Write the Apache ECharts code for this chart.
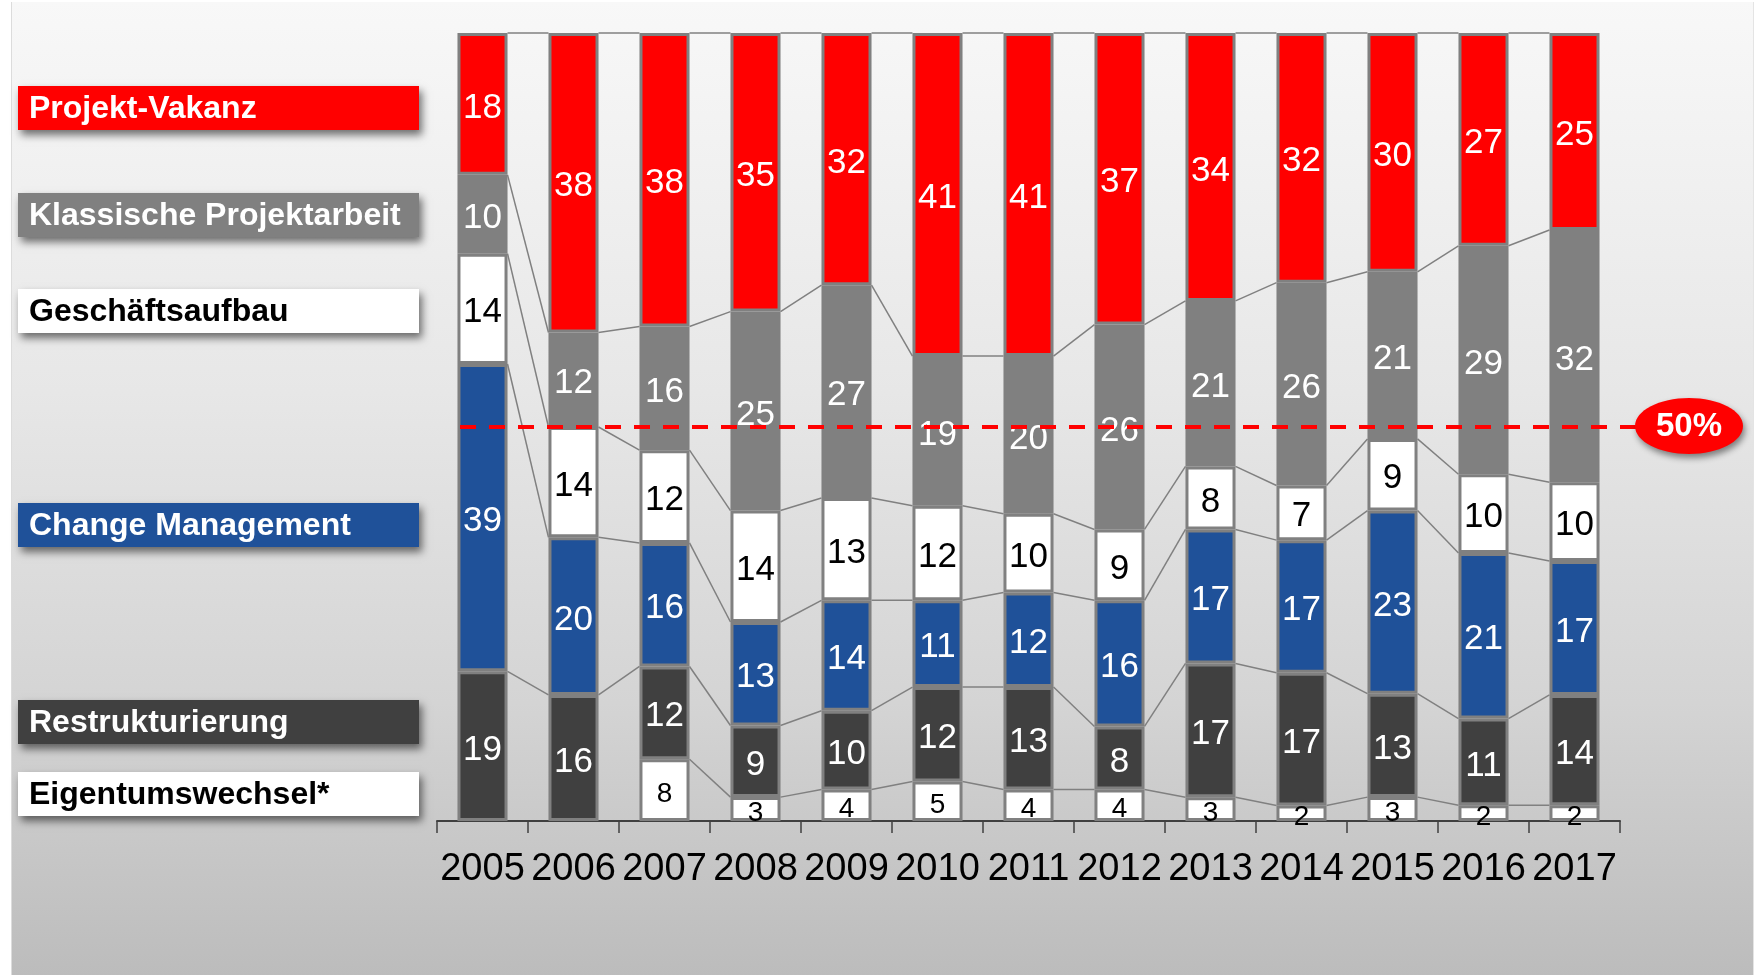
<!DOCTYPE html>
<html>
<head>
<meta charset="utf-8">
<script src="https://cdn.jsdelivr.net/npm/echarts@6/dist/echarts.min.js"></script>
<style>
  html, body { margin: 0; padding: 0; width: 1764px; height: 975px; background: #ffffff; overflow: hidden; }
  #panel { position: absolute; left: 11px; top: 2px; width: 1743px; height: 973px;
    background: linear-gradient(to bottom, #f8f8f8 0%, #e7e7e7 40%, #d4d4d4 72%, #c8c8c8 86%, #bcbcbc 100%);
    border-left: 1px solid #dcdcdc; border-right: 1px solid #e4e4e4; box-sizing: border-box; }
  #chart { position: absolute; left: 0; top: 0; width: 1764px; height: 975px; }
</style>
</head>
<body>
<div id="panel"></div>
<div id="chart"></div>
<script>
const years = ['2005','2006','2007','2008','2009','2010','2011','2012','2013','2014','2015','2016','2017'];
const eigentumswechsel = [0, 0, 8, 3, 4, 5, 4, 4, 3, 2, 3, 2, 2];
const restrukturierung = [19, 16, 12, 9, 10, 12, 13, 8, 17, 17, 13, 11, 14];
const changeManagement = [39, 20, 16, 13, 14, 11, 12, 16, 17, 17, 23, 21, 17];
const geschaeftsaufbau = [14, 14, 12, 14, 13, 12, 10, 9, 8, 7, 9, 10, 10];
const klassischeProjektarbeit = [10, 12, 16, 25, 27, 19, 20, 26, 21, 26, 21, 29, 32];
const projektVakanz = [18, 38, 38, 35, 32, 41, 41, 37, 34, 32, 30, 27, 25];
const seriesNames = ['Eigentumswechsel*', 'Restrukturierung', 'Change Management', 'Geschäftsaufbau', 'Klassische Projektarbeit', 'Projekt-Vakanz'];
const referenceLine = 50;

const raw = [eigentumswechsel, restrukturierung, changeManagement, geschaeftsaufbau, klassischeProjektarbeit, projektVakanz];
const colors = ['#ffffff', '#404040', '#1f5199', '#ffffff', '#808080', '#ff0000'];
const labelColors = ['#000000', '#ffffff', '#ffffff', '#000000', '#ffffff', '#ffffff'];
const labelSizes = [28, 35, 35, 35, 35, 35];
const FONT = "'Liberation Sans', Arial, sans-serif";
const GAP = 0.45;

const totals = years.map((_, i) => raw.reduce((a, s) => a + s[i], 0));
const pct = raw.map(s => s.map((v, i) => v / totals[i] * 100));
const cum = [];
pct.forEach((s, k) => cum.push(s.map((v, i) => v + (k > 0 ? cum[k - 1][i] : 0))));

const lineData = [];
cum.forEach((level, k) => {
  for (let i = 0; i < years.length - 1; i++) {
    if (raw[k][i] === 0 || raw[k][i + 1] === 0) continue;
    lineData.push([i, i + 1, level[i], level[i + 1]]);
  }
});

const barSeries = raw.map((s, k) => ({
  name: seriesNames[k],
  type: 'bar',
  stack: 'total',
  barCategoryGap: (GAP * 100) + '%',
  z: 2,
  data: s.map((v, i) => ({ value: v === 0 ? '-' : pct[k][i], raw: v })),
  itemStyle: { color: colors[k], borderColor: '#808080', borderWidth: 3 },
  label: {
    show: true, position: 'inside', offset: [0, 4], color: labelColors[k], fontSize: labelSizes[k], fontFamily: FONT,
    formatter: p => String(p.data.raw)
  },
  emphasis: { disabled: true }
}));

barSeries[5].markLine = {
  silent: true, symbol: 'none', z: 6,
  lineStyle: { color: '#ff0000', width: 4, type: [16, 13] },
  label: { show: false },
  data: [[{ yAxis: referenceLine, x: 460 }, { yAxis: referenceLine, x: 1640 }]]
};

const option = {
  animation: false,
  backgroundColor: 'transparent',
  grid: { left: 437, right: 144, top: 33, bottom: 154 },
  xAxis: {
    type: 'category', data: years,
    axisLine: { lineStyle: { color: '#404040', width: 2 } },
    axisTick: { show: true, interval: 0, length: 12, lineStyle: { color: '#404040', width: 1.5 } },
    axisLabel: { interval: 0, fontSize: 38, color: '#000000', fontFamily: FONT, margin: 30, hideOverlap: false }
  },
  yAxis: { type: 'value', min: 0, max: 100, show: false, splitLine: { show: false } },
  series: [
    {
      type: 'custom', z: 1, silent: true,
      encode: { x: [0, 1], y: [2, 3] },
      data: lineData,
      renderItem: (params, api) => {
        const p1 = api.coord([api.value(0), api.value(2)]);
        const p2 = api.coord([api.value(1), api.value(3)]);
        const half = api.size([1, 0])[0] * (1 - GAP) / 2;
        return { type: 'line', shape: { x1: p1[0] + half, y1: p1[1], x2: p2[0] - half, y2: p2[1] },
          style: { stroke: '#808080', lineWidth: 1.5 } };
      }
    }
  ].concat(barSeries)
};

const chart = echarts.init(document.getElementById('chart'), null, { renderer: 'canvas' });
chart.setOption(option);

// legend boxes (left side)
const legendItems = [
  { k: 5, cy: 108 }, { k: 4, cy: 215 }, { k: 3, cy: 311 },
  { k: 2, cy: 525 }, { k: 1, cy: 722 }, { k: 0, cy: 794 }
];
const graphics = [];
legendItems.forEach(it => {
  graphics.push({
    type: 'rect', silent: true, z: 10,
    shape: { x: 18, y: it.cy - 22, width: 401, height: 44 },
    style: { fill: colors[it.k], shadowBlur: 8, shadowOffsetX: 3, shadowOffsetY: 5, shadowColor: 'rgba(0,0,0,0.55)' }
  });
  graphics.push({
    type: 'text', silent: true, z: 11,
    x: 29, y: it.cy + 1,
    style: { text: seriesNames[it.k], fill: labelColors[it.k], font: 'bold 32px ' + FONT, verticalAlign: 'middle', align: 'left' }
  });
});
const y50 = chart.convertToPixel({ yAxisIndex: 0 }, referenceLine);
graphics.push({
  type: 'ellipse', silent: true, z: 10,
  shape: { cx: 1689, cy: y50 - 1, rx: 54, ry: 28 },
  style: { fill: '#ff0000', shadowBlur: 6, shadowOffsetX: 2, shadowOffsetY: 4, shadowColor: 'rgba(0,0,0,0.45)' }
});
graphics.push({
  type: 'text', silent: true, z: 11, x: 1689, y: y50,
  style: { text: referenceLine + '%', fill: '#ffffff', font: 'bold 33px ' + FONT, align: 'center', verticalAlign: 'middle' }
});
chart.setOption({ graphic: graphics });
</script>
</body>
</html>
